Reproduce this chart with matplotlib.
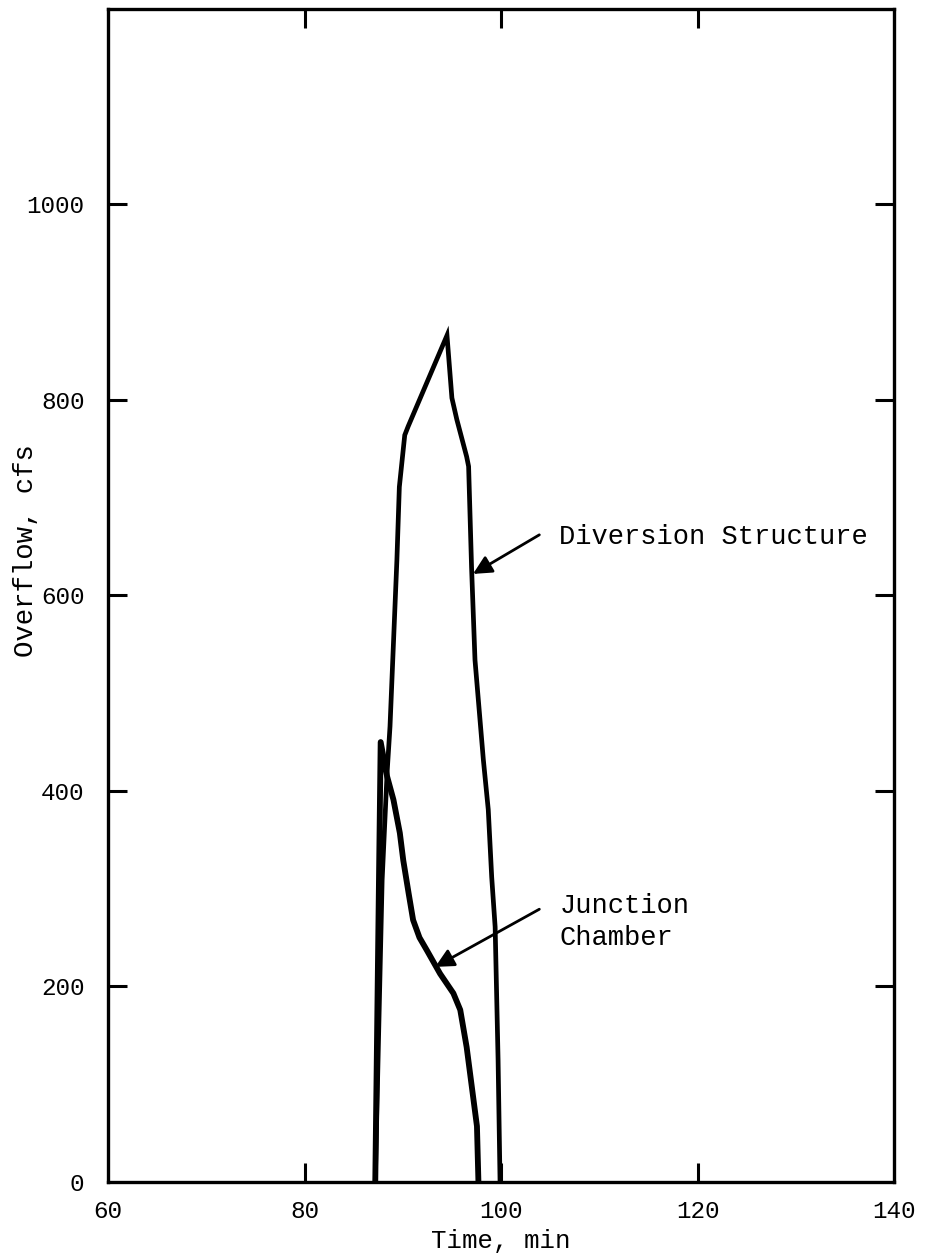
import matplotlib
matplotlib.use("Agg")
import matplotlib.pyplot as plt

plt.rcParams['font.family'] = ['Liberation Mono', 'DejaVu Sans Mono']

# overflow hydrographs, time in min, flow in cfs
div_time = [87.2, 87.9, 88.4, 88.7, 89.4, 89.65, 90.2, 90.55, 94.5,
            95.0, 95.5, 96.5, 96.7, 97.0, 97.35, 98.2, 98.7, 99.05,
            99.4, 99.7, 99.9]
div_flow = [0, 309, 418, 466, 636, 711, 764, 773, 866,
            802, 780, 742, 732, 629, 534, 432, 381, 312,
            261, 125, 0]

jct_time = [87.2, 87.75, 88.4, 89.05, 89.7, 90.05, 90.6, 91.05, 91.7, 92.45,
            93.8, 95.15, 95.85, 96.5, 97.2, 97.55, 97.7]
jct_flow = [0, 450, 415, 391, 357, 329, 295, 268, 250, 237,
            213, 193, 176, 138, 84, 57, 0]

x_ticks = [60, 80, 100, 120, 140]
y_ticks = [0, 200, 400, 600, 800, 1000]

fig = plt.figure(figsize=(9.25, 12.59), dpi=100)
ax = fig.add_axes([0.1168, 0.0612, 0.8497, 0.9317])

ax.plot(div_time, div_flow, color='black', lw=3.4, solid_joinstyle='miter')
ax.plot(jct_time, jct_flow, color='black', lw=4.2, solid_joinstyle='round')

ax.set_xlim(60, 140)
ax.set_ylim(0, 1200)
ax.set_xticks(x_ticks)
ax.set_yticks(y_ticks)
# tick marks only inside the frame, not at the corners
ax.xaxis.remove_overlapping_locs = False
ax.yaxis.remove_overlapping_locs = False
ax.set_xticks([t for t in x_ticks if t not in (60, 140)], minor=True)
ax.set_yticks([t for t in y_ticks if t != 0], minor=True)

for s in ax.spines.values():
    s.set_linewidth(2.4)

ax.tick_params(which='major', length=0, labelsize=17.5)
ax.tick_params(which='minor', direction='in', length=14, width=2.2,
               top=True, right=True, bottom=True, left=True)
ax.tick_params(axis='x', which='major', pad=13)
ax.tick_params(axis='y', which='major', pad=17)

ax.set_xlabel('Time, min', fontsize=18.5, labelpad=4)
ax.set_ylabel('Overflow, cfs', fontsize=19.7)
ax.yaxis.set_label_coords(-0.0876, 0.538)

arrow = dict(arrowstyle='-|>', color='black', lw=2.0,
             mutation_scale=28, shrinkA=0, shrinkB=0)
ax.annotate('', xy=(97.15, 622), xytext=(103.9, 662), arrowprops=arrow)
ax.text(105.95, 660, 'Diversion Structure', fontsize=19.5, va='center', ha='left')

ax.annotate('', xy=(93.3, 220), xytext=(103.9, 279), arrowprops=arrow)
ax.text(105.95, 266, 'Junction\nChamber', fontsize=19.5, va='center', ha='left',
        linespacing=1.3)

fig.savefig('out.png', dpi=100, facecolor='white')
